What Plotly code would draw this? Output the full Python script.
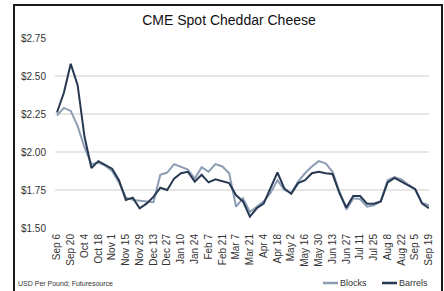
import plotly.graph_objects as go
import pandas as pd

weeks = pd.date_range("2024-09-06", periods=55, freq="7D")

blocks = [2.24, 2.29, 2.27, 2.17, 2.03, 1.92, 1.93, 1.91, 1.875, 1.80,
          1.70, 1.685, 1.68, 1.675, 1.67, 1.85, 1.865, 1.92, 1.905, 1.885,
          1.825, 1.90, 1.87, 1.92, 1.905, 1.86, 1.64, 1.695, 1.605, 1.64,
          1.675, 1.73, 1.815, 1.75, 1.73, 1.805, 1.86, 1.905, 1.94, 1.925,
          1.87, 1.74, 1.62, 1.695, 1.69, 1.64, 1.65, 1.675, 1.815, 1.835,
          1.82, 1.785, 1.755, 1.665, 1.65]

barrels = [2.26, 2.39, 2.58, 2.44, 2.10, 1.895, 1.94, 1.915, 1.89, 1.815,
           1.685, 1.70, 1.63, 1.66, 1.705, 1.765, 1.75, 1.825, 1.86, 1.87,
           1.805, 1.85, 1.80, 1.82, 1.805, 1.795, 1.715, 1.675, 1.575, 1.63,
           1.66, 1.76, 1.865, 1.76, 1.725, 1.795, 1.815, 1.86, 1.87, 1.86,
           1.855, 1.73, 1.635, 1.71, 1.71, 1.66, 1.66, 1.675, 1.80, 1.83,
           1.805, 1.785, 1.755, 1.66, 1.63]

y_ticks = [1.50, 1.75, 2.00, 2.25, 2.50, 2.75]
y_labels = ["$1.50", "$1.75", "$2.00", "$2.25", "$2.50", "$2.75"]
x_ticks = weeks[::2]
x_labels = [d.strftime("%b ") + str(d.day) for d in x_ticks]

C_BLOCKS = "#8d9db3"
C_BARRELS = "#263852"
FONT = "Liberation Sans, Arial, sans-serif"

W, H = 444, 291
ML, MR, MT, MB = 55, 15, 38, 63
PW = W - ML - MR
PH = H - MT - MB

def px(x):
    return (x - ML) / PW

def py(y):
    return (H - MB - y) / PH

fig = go.Figure()
fig.add_trace(go.Scatter(x=weeks, y=blocks, mode="lines", name="Blocks",
                         line=dict(color=C_BLOCKS, width=2)))
fig.add_trace(go.Scatter(x=weeks, y=barrels, mode="lines", name="Barrels",
                         line=dict(color=C_BARRELS, width=2)))

shapes = [
    dict(type="line", xref="paper", yref="paper",
         x0=px(14), x1=px(14), y0=py(5), y1=py(300),
         line=dict(color="#1a1a1a", width=2)),
    dict(type="line", xref="paper", yref="paper",
         x0=px(442), x1=px(442), y0=py(5), y1=py(300),
         line=dict(color="#1a1a1a", width=2)),
    dict(type="line", xref="paper", yref="paper",
         x0=px(13), x1=px(443), y0=py(5), y1=py(5),
         line=dict(color="#1a1a1a", width=2)),
    dict(type="line", xref="paper", yref="paper",
         x0=px(323), x1=px(338), y0=py(283), y1=py(283),
         line=dict(color=C_BLOCKS, width=2.5)),
    dict(type="line", xref="paper", yref="paper",
         x0=px(382), x1=px(397), y0=py(283), y1=py(283),
         line=dict(color=C_BARRELS, width=2.5)),
]

annotations = [
    dict(text="USD Per Pound; Futuresource", xref="paper", yref="paper",
         x=px(16), y=py(283), xanchor="left", yanchor="middle", showarrow=False,
         font=dict(family=FONT, size=7, color="#333333")),
    dict(text="Blocks", xref="paper", yref="paper",
         x=px(338), y=py(283), xanchor="left", yanchor="middle", showarrow=False,
         font=dict(family=FONT, size=9, color="#333333")),
    dict(text="Barrels", xref="paper", yref="paper",
         x=px(397), y=py(283), xanchor="left", yanchor="middle", showarrow=False,
         font=dict(family=FONT, size=9, color="#333333")),
]

fig.update_layout(
    width=W, height=H,
    margin=dict(l=ML, r=MR, t=MT, b=MB, autoexpand=False),
    paper_bgcolor="white", plot_bgcolor="white",
    showlegend=False,
    title=dict(text="CME Spot Cheddar Cheese", xref="container", yref="container",
               x=229 / W, y=1 - 20.5 / H, xanchor="center", yanchor="middle",
               font=dict(family=FONT, size=14, color="#111111")),
    font=dict(family=FONT, size=10, color="#333333"),
    shapes=shapes,
    annotations=annotations,
    xaxis=dict(type="date", range=["2024-09-04", "2025-09-19"],
               tickvals=list(x_ticks), ticktext=x_labels, tickangle=-90,
               showgrid=False, zeroline=False, showline=False, ticks="",
               automargin=False, ticklabelstandoff=3,
               tickfont=dict(family=FONT, size=10, color="#333333")),
    yaxis=dict(range=[1.5, 2.75], tickvals=y_ticks, ticktext=y_labels,
               showgrid=True, gridcolor="#e6e6e6", gridwidth=1.5,
               zeroline=False, showline=False, ticks="",
               ticklabelstandoff=8, automargin=False,
               tickfont=dict(family=FONT, size=10, color="#333333")),
)

fig.write_html("out.html", config={"displayModeBar": False},
               post_script="document.body.style.margin='0';document.body.style.padding='0';")
